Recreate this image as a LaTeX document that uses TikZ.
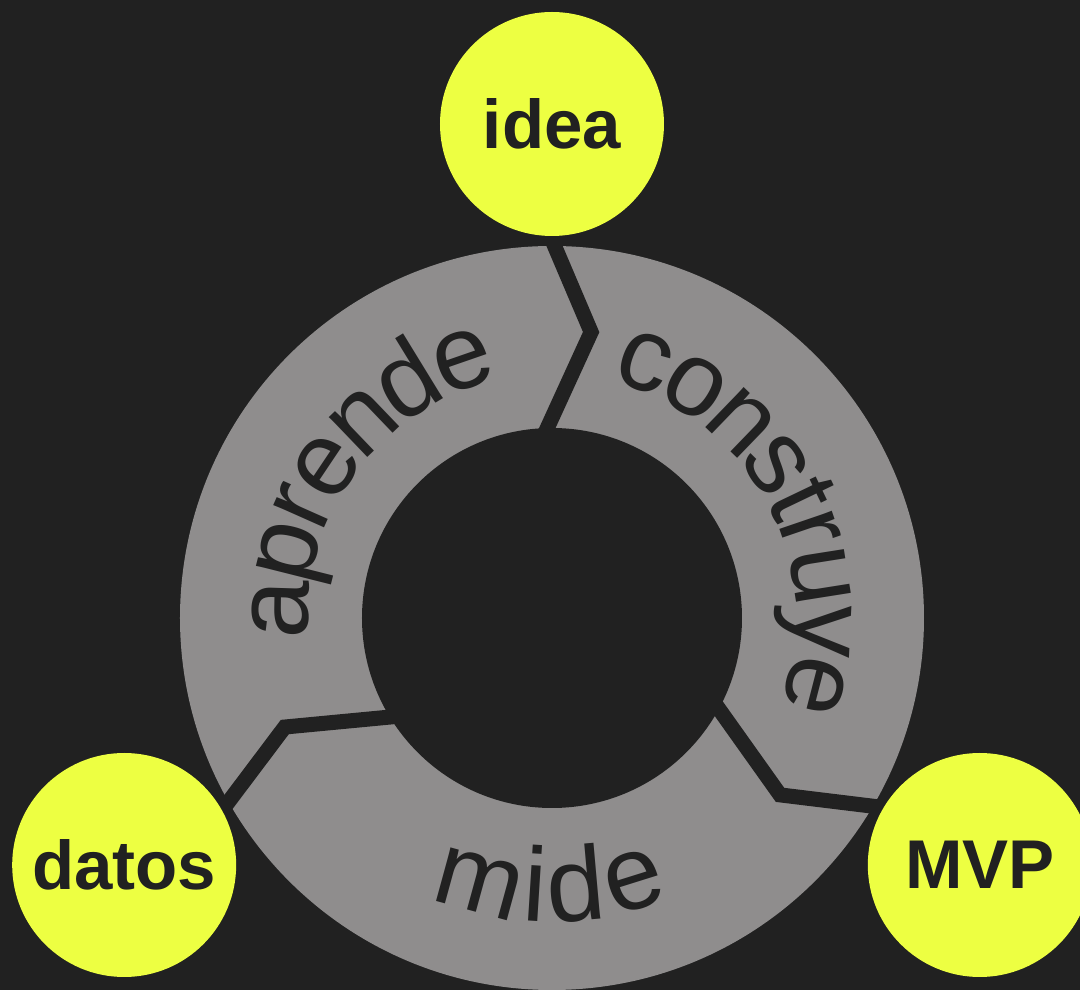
\documentclass[tikz,border=0pt]{standalone}
\usepackage{fontspec}
\setmainfont{Liberation Sans}
\definecolor{bg}{RGB}{33,33,33}
\definecolor{ringgray}{RGB}{143,141,141}
\definecolor{yel}{RGB}{237,255,66}
\begin{document}
\begin{tikzpicture}[x=1pt,y=1pt,
  ringtext/.style={text=bg, font=\fontsize{105}{120}\selectfont, anchor=base, inner sep=0pt},
  bubble/.style={circle, fill=yel, minimum size=224pt, inner sep=0pt, text=bg,
    font=\fontsize{69}{80}\selectfont\bfseries},
  divider/.style={draw=bg, line width=15pt, line join=miter, line cap=butt}]
\useasboundingbox (-552,-372) rectangle (528,618);
\clip (-552,-372) rectangle (528,618);
\fill[bg] (-552,-372) rectangle (528,618);
% ring
\node (ring) [circle, fill=ringgray, minimum size=744pt, inner sep=0pt] at (0,0) {};
\node (hub) [circle, fill=bg, minimum size=380pt, inner sep=0pt] at (0,0) {};
% dividers
\coordinate (t1) at (90:378);  \coordinate (t2) at (82.2:288.6);  \coordinate (t3) at (92.5:183);
\coordinate (r1) at (-30:378); \coordinate (r2) at (-37.8:288.6); \coordinate (r3) at (-27.5:183);
\coordinate (l1) at (210:378); \coordinate (l2) at (202.2:288.6); \coordinate (l3) at (212.5:183);
\draw[divider] (t1) -- (t2) -- (t3);
\draw[divider] (r1) -- (r2) -- (r3);
\draw[divider] (l1) -- (l2) -- (l3);
% aprende
\node[ringtext, rotate=88.2]  (ap1) at (178.2:244) {a};
\node[ringtext, rotate=75.9]  (ap2) at (165.9:244) {p};
\node[ringtext, rotate=66.0]  (ap3) at (156.0:244) {r};
\node[ringtext, rotate=56.15] (ap4) at (146.15:244) {e};
\node[ringtext, rotate=43.8]  (ap5) at (133.8:244) {n};
\node[ringtext, rotate=31.5]  (ap6) at (121.5:244) {d};
\node[ringtext, rotate=19.1]  (ap7) at (109.1:244) {e};
% construye
\node[ringtext, rotate=-19.95] (co1) at (70.05:244) {c};
\node[ringtext, rotate=-31.67] (co2) at (58.33:244) {o};
\node[ringtext, rotate=-44.01] (co3) at (45.99:244) {n};
\node[ringtext, rotate=-55.74] (co4) at (34.26:244) {s};
\node[ringtext, rotate=-64.37] (co5) at (25.63:244) {t};
\node[ringtext, rotate=-71.15] (co6) at (18.85:244) {r};
\node[ringtext, rotate=-81.02] (co7) at (8.98:244) {u};
\node[ringtext, rotate=-92.74] (co8) at (-2.74:244) {y};
\node[ringtext, rotate=-104.47] (co9) at (-14.47:244) {e};
% mide
\node[ringtext, rotate=344.7] (mi1) at (254.7:304) {m};
\node[ringtext, rotate=356.4] (mi2) at (266.4:304) {i};
\node[ringtext, rotate=365.04] (mi3) at (275.04:304) {d};
\node[ringtext, rotate=377.39] (mi4) at (287.39:304) {e};
% bubbles
\node[bubble] (idea) at (90:494) {idea};
\node[bubble] (datos) at (210:494) {datos};
\node[bubble] (mvp) at (330:494) {MVP};
\end{tikzpicture}
\end{document}
